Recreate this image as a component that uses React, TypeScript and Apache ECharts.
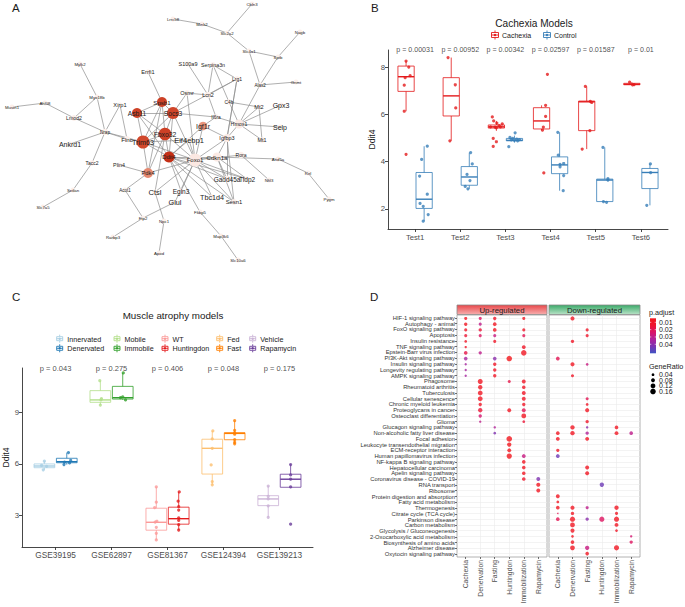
import React, { useEffect, useRef } from 'react';
import * as echarts from 'echarts';

const FONT = "'Liberation Sans', Arial, Helvetica, sans-serif";

// ---------------- Panel A : interaction network ----------------
// [gene, x, y, hub score (0..1), node diameter, label size]
const NET_NODES: [string, number, number, number, number, number][] = [
  ['Cbln3', 252, 4, 0, 5, 4.3], ['Lrrc58', 173, 19, 0, 5, 4.3], ['Mink2', 202, 24, 0, 5, 4.3],
  ['Slc2a2', 227, 33, 0, 5, 4.3], ['Nagb', 300, 32, 0, 5, 4.3], ['Slc4a1', 249, 51, 0, 5, 4.3],
  ['Sptb', 278, 57, 0, 5, 4.3], ['Alas2', 260, 85, 0, 5.5, 4.5], ['Gnmt', 296, 82, 0, 5, 4.3],
  ['Mylk2', 80, 64, 0, 5, 4.3], ['Myo18b', 97, 97, 0, 5, 4.3], ['Ahl08', 45, 103, 0, 5, 4.3],
  ['Mustn1', 12, 107, 0, 5, 4.3], ['Lmod2', 74, 118, 0, 6, 5.2], ['Nrap', 105, 132, 0, 6.5, 4.6],
  ['Ankrd1', 70, 144, 0, 5, 7], ['Xirp1', 120, 105, 0, 5, 5.7], ['Flnc', 127, 139, 0, 6, 6.2],
  ['Tacc2', 92, 163, 0, 5.5, 5], ['Sntlan', 73, 190, 0, 5, 4.3], ['Slc7a5', 43, 207, 0, 5, 4.3],
  ['Plin4', 119, 165, 0, 5, 5.3], ['Acot1', 125, 190, 0, 5, 4.5], ['Ftp2', 143, 218, 0, 5, 4.3],
  ['Rarbp3', 113, 237, 0, 5, 4.3], ['Npc1', 164, 221, 0, 5, 4.3], ['Apod', 159, 253, 0, 5, 4.3],
  ['Errfi1', 148, 72, 0, 5, 5.6], ['Spsb1', 162, 102, 0.85, 10, 6.1], ['Asb11', 137, 113, 0.85, 10, 6.7],
  ['Socs3', 173, 113, 0.82, 12, 6.6], ['Fbxo32', 165, 134, 0.86, 12.5, 6.8], ['Trim63', 143, 142, 0.8, 13, 7.2],
  ['Ddit4', 169, 157, 1, 11, 5.7], ['Pdk4', 148, 173, 0.45, 10, 5.8], ['Ctsl', 155, 192, 0, 5, 7.5],
  ['Egln3', 181, 191, 0, 5, 6.5], ['Glul', 175, 202, 0, 5, 7.3], ['Tbc1d4', 212, 197, 0, 5, 7.2],
  ['Fkbp5', 200, 212, 0, 5, 4.3], ['Map3k6', 221, 236, 0, 5, 4.3], ['Slc10a6', 238, 260, 0, 5, 4.3],
  ['Sesn1', 234, 202, 0, 6, 5.9], ['Gadd45a', 227, 179, 0, 7, 6.5], ['Tldp2', 247, 179, 0, 5, 6.5],
  ['Foxo1', 195, 160, 0.03, 13, 6], ['Cdkn1a', 217, 157, 0.02, 9, 6.1], ['Eif4ebp1', 189, 140, 0, 5, 7.5],
  ['Igf1r', 203, 126, 0.4, 8.5, 7], ['Igfbp3', 227, 138, 0.02, 8, 5.5], ['Rora', 241, 155, 0, 6.5, 5.1],
  ['Arid5a', 278, 159, 0, 5, 4.3], ['Rel', 308, 173, 0, 5, 4.3], ['Pygm', 329, 199, 0, 5, 4.3],
  ['Nfil3', 269, 180, 0, 5, 4.3], ['Hmox1', 239, 124, 0.02, 9, 5.3], ['Mt2', 259, 107, 0, 5, 5.6],
  ['Mt1', 262, 140, 0, 5.5, 5.4], ['Gpx3', 281, 105, 0, 5, 7], ['Selp', 280, 127, 0, 5, 7],
  ['Il6ra', 216, 117, 0, 5.5, 4.8], ['C4b', 229, 102, 0, 5.5, 4.8], ['Lcn2', 208, 95, 0, 6.5, 5.4],
  ['Lrg1', 237, 79, 0, 5.5, 5], ['Serpina3n', 213, 65, 0, 5.5, 5.3], ['S100a9', 188, 64, 0, 5, 5.5],
  ['Osmr', 187, 93, 0, 5.5, 5.5],
];
const NET_EDGES: [string, string][] = [
  ['Cbln3', 'Slc2a2'], ['Lrrc58', 'Mink2'], ['Mink2', 'Slc2a2'], ['Slc2a2', 'Slc4a1'], ['Slc4a1', 'Sptb'],
  ['Slc4a1', 'Alas2'], ['Nagb', 'Sptb'], ['Sptb', 'Alas2'], ['Alas2', 'Gnmt'], ['Alas2', 'Hmox1'],
  ['Mylk2', 'Myo18b'], ['Myo18b', 'Lmod2'], ['Myo18b', 'Nrap'], ['Mustn1', 'Ahl08'], ['Ahl08', 'Lmod2'],
  ['Lmod2', 'Nrap'], ['Nrap', 'Trim63'], ['Nrap', 'Flnc'], ['Nrap', 'Xirp1'], ['Nrap', 'Ankrd1'],
  ['Nrap', 'Tacc2'], ['Tacc2', 'Sntlan'], ['Sntlan', 'Slc7a5'], ['Xirp1', 'Flnc'], ['Flnc', 'Trim63'],
  ['Errfi1', 'Spsb1'], ['Spsb1', 'Asb11'], ['Spsb1', 'Socs3'], ['Spsb1', 'Fbxo32'], ['Spsb1', 'Trim63'],
  ['Spsb1', 'Pdk4'], ['Asb11', 'Socs3'], ['Asb11', 'Trim63'], ['Asb11', 'Fbxo32'], ['Asb11', 'Ddit4'],
  ['Socs3', 'Fbxo32'], ['Socs3', 'Osmr'], ['Socs3', 'Lrg1'], ['Socs3', 'Il6ra'], ['Socs3', 'Ddit4'],
  ['Socs3', 'Foxo1'], ['Socs3', 'Trim63'], ['Fbxo32', 'Trim63'], ['Fbxo32', 'Ddit4'], ['Fbxo32', 'Pdk4'],
  ['Fbxo32', 'Foxo1'], ['Fbxo32', 'Ctsl'], ['Trim63', 'Ddit4'], ['Trim63', 'Pdk4'], ['Trim63', 'Foxo1'],
  ['Trim63', 'Eif4ebp1'], ['Ddit4', 'Foxo1'], ['Ddit4', 'Cdkn1a'], ['Ddit4', 'Gadd45a'], ['Ddit4', 'Sesn1'],
  ['Ddit4', 'Egln3'], ['Ddit4', 'Fkbp5'], ['Ddit4', 'Igf1r'], ['Ddit4', 'Tldp2'], ['Ddit4', 'Eif4ebp1'],
  ['Ddit4', 'Tbc1d4'], ['Pdk4', 'Plin4'], ['Pdk4', 'Acot1'], ['Pdk4', 'Foxo1'], ['Acot1', 'Ftp2'],
  ['Ftp2', 'Rarbp3'], ['Ftp2', 'Glul'], ['Npc1', 'Apod'], ['Npc1', 'Ctsl'], ['Foxo1', 'Ctsl'],
  ['Foxo1', 'Egln3'], ['Foxo1', 'Tbc1d4'], ['Foxo1', 'Sesn1'], ['Foxo1', 'Gadd45a'], ['Foxo1', 'Cdkn1a'],
  ['Foxo1', 'Igf1r'], ['Foxo1', 'Igfbp3'], ['Foxo1', 'Eif4ebp1'], ['Foxo1', 'Rora'], ['Foxo1', 'Tldp2'],
  ['Foxo1', 'Osmr'], ['Foxo1', 'Glul'], ['Fkbp5', 'Map3k6'], ['Map3k6', 'Slc10a6'], ['Cdkn1a', 'Gadd45a'],
  ['Cdkn1a', 'Sesn1'], ['Cdkn1a', 'Igfbp3'], ['Cdkn1a', 'Arid5a'], ['Cdkn1a', 'Tldp2'], ['Rora', 'Nfil3'],
  ['Arid5a', 'Rel'], ['Rel', 'Pygm'], ['Igfbp3', 'Hmox1'], ['Igfbp3', 'Lrg1'], ['Igfbp3', 'Sesn1'],
  ['Igfbp3', 'Gadd45a'], ['Hmox1', 'Mt2'], ['Hmox1', 'Mt1'], ['Hmox1', 'Gpx3'], ['Hmox1', 'Selp'],
  ['Hmox1', 'C4b'], ['Hmox1', 'Il6ra'], ['Mt2', 'Mt1'], ['Mt2', 'C4b'], ['Lcn2', 'S100a9'],
  ['Lcn2', 'Serpina3n'], ['Lcn2', 'Lrg1'], ['Lcn2', 'Osmr'], ['Lcn2', 'Il6ra'], ['Serpina3n', 'Lrg1'],
  ['Serpina3n', 'C4b'], ['Lrg1', 'Igfbp3'], ['Igf1r', 'Igfbp3'], ['Il6ra', 'Igf1r'],
];

// ---------------- Panel B : Cachexia models ----------------
const B_TESTS = ['Test1', 'Test2', 'Test3', 'Test4', 'Test5', 'Test6'];
const B_PVALUES = ['p = 0.00031', 'p = 0.00952', 'p = 0.00342', 'p = 0.02597', 'p = 0.01587', 'p = 0.01'];
const B_Y_TICKS = [2, 4, 6, 8];
// [low whisker, Q1, median, Q3, high whisker]
const bCachexiaBox = [
  [6.13, 6.97, 7.59, 8.04, 8.25], [4.88, 5.93, 6.78, 7.55, 8.4], [5.3, 5.42, 5.47, 5.55, 5.72],
  [5.33, 5.38, 5.72, 6.28, 6.38], [4.53, 5.31, 6.53, 6.56, 7.18], [7.24, 7.25, 7.27, 7.31, 7.36],
];
const bControlBox = [
  [1.48, 2.02, 2.41, 3.54, 4.65], [2.85, 3.0, 3.35, 3.79, 4.38], [4.8, 4.88, 4.9, 4.98, 5.1],
  [2.77, 3.49, 3.86, 4.2, 5.24], [2.28, 2.31, 3.22, 3.26, 4.6], [2.15, 2.86, 3.54, 3.71, 3.9],
];
// [test, jitter, Ddit4]
const bCachexiaPts = [
  [1, 0, 8.25], [1, 0.06, 8.0], [1, 0.09, 7.64], [1, -0.02, 7.55], [1, -0.04, 7.23], [1, -0.04, 6.13], [1, 0, 4.31],
  [2, -0.07, 8.4], [2, 0.09, 7.25], [2, 0.1, 6.27], [2, -0.03, 4.88],
  [3, -0.09, 5.89], [3, -0.06, 5.72], [3, 0.01, 5.63], [3, 0.13, 5.6], [3, 0.06, 5.52], [3, -0.13, 5.47],
  [3, -0.03, 5.46], [3, 0.09, 5.47], [3, 0, 5.43], [3, -0.07, 4.98], [3, 0, 4.84], [3, -0.07, 4.64],
  [4, 0.13, 7.69], [4, 0.09, 6.38], [4, 0.09, 5.91], [4, 0.04, 5.46], [4, 0.02, 5.33], [4, 0.05, 3.52],
  [5, -0.03, 7.18], [5, 0.08, 6.55], [5, 0.11, 6.5], [5, 0.07, 5.31], [5, -0.1, 4.53],
  [6, -0.05, 7.36], [6, 0.05, 7.26], [6, 0.015, 7.25],
];
const bControlPts = [
  [1, 0.07, 4.65], [1, -0.055, 4.09], [1, -0.1, 3.39], [1, 0.07, 2.62], [1, -0.09, 2.23], [1, -0.02, 2.11], [1, 0.09, 1.76], [1, -0.02, 1.48],
  [2, 0.03, 4.38], [2, 0.066, 3.9], [2, -0.05, 3.46], [2, 0.015, 3.2], [2, -0.09, 2.95], [2, -0.03, 2.85],
  [3, 0.015, 5.22], [3, -0.1, 5.02], [3, -0.04, 4.98], [3, 0.05, 4.95], [3, 0.11, 4.93], [3, -0.07, 4.92], [3, 0, 4.9], [3, 0.07, 4.88], [3, -0.125, 4.63],
  [4, -0.04, 5.24], [4, -0.03, 4.27], [4, 0.09, 3.92], [4, 0.01, 3.88], [4, 0.01, 3.78], [4, 0.09, 3.41], [4, 0.08, 2.77],
  [5, -0.04, 4.6], [5, 0.07, 3.28], [5, 0.07, 3.22], [5, -0.03, 2.31], [5, 0.04, 2.28],
  [6, 0.01, 3.9], [6, 0.015, 3.53], [6, -0.07, 2.15],
];

// ---------------- Panel C : Muscle atrophy models ----------------
const C_DATASETS = ['GSE39195', 'GSE62897', 'GSE81367', 'GSE124394', 'GSE139213'];
const C_PVALUES = ['p = 0.043', 'p = 0.275', 'p = 0.406', 'p = 0.048', 'p = 0.175'];
const C_CONTROL_NAMES = ['Innervated', 'Mobile', 'WT', 'Fed', 'Vehicle'];
const C_TREAT_NAMES = ['Denervated', 'Immobile', 'Huntingdon', 'Fast', 'Rapamycin'];
const C_Y_TICKS = [3, 6, 9];
const cControlBox = [
  [5.65, 5.77, 5.87, 5.99, 6.15], [9.42, 9.58, 9.72, 10.26, 10.84], [1.56, 2.13, 2.59, 3.41, 4.65],
  [4.77, 5.4, 6.9, 7.43, 7.91], [2.88, 3.56, 3.95, 4.14, 4.71],
];
const cTreatBox = [
  [5.95, 6.06, 6.12, 6.32, 6.65], [9.72, 9.77, 9.85, 10.51, 11.29], [2.14, 2.48, 2.8, 3.47, 4.36],
  [7.16, 7.4, 7.77, 7.81, 8.51], [4.63, 4.63, 5.1, 5.39, 5.97],
];
const cControlPts = [
  [1, 0, 6.15], [1, -0.05, 5.9], [1, 0.04, 5.85], [1, -0.02, 5.65],
  [2, -0.01, 10.84], [2, 0.02, 9.8], [2, 0.01, 9.72], [2, 0, 9.42],
  [3, 0, 4.65], [3, 0, 3.76], [3, -0.03, 3.45], [3, 0.01, 2.65], [3, -0.02, 2.6], [3, 0, 2.3], [3, 0, 1.95], [3, 0, 1.56],
  [4, 0.01, 7.91], [4, 0, 7.45], [4, 0, 6.9], [4, -0.02, 5.93], [4, 0, 4.96], [4, 0, 4.77],
  [5, 0, 4.7], [5, 0, 4.1], [5, 0, 3.95], [5, 0, 3.55], [5, 0, 2.88],
];
const cTreatPts = [
  [1, 0.03, 6.65], [1, 0.07, 6.2], [1, -0.04, 6.1], [1, 0.05, 6.05], [1, -0.05, 5.95],
  [2, 0.01, 11.29], [2, 0, 9.9], [2, -0.04, 9.85], [2, 0.05, 9.72],
  [3, 0.01, 4.36], [3, -0.01, 3.82], [3, 0, 3.5], [3, 0, 3.3], [3, 0, 2.85], [3, 0, 2.7], [3, 0, 2.45], [3, 0, 2.14],
  [4, 0, 8.51], [4, 0, 7.95], [4, 0, 7.8], [4, 0, 7.72], [4, 0, 7.4], [4, 0, 7.25], [4, 0, 7.16],
  [5, 0, 5.95], [5, 0, 5.35], [5, 0, 5.1], [5, 0, 4.65], [5, 0, 2.48],
];

// ---------------- Panel D : KEGG enrichment ----------------
const D_PATHWAYS = [
  'HIF-1 signaling pathway', 'Autophagy - animal', 'FoxO signaling pathway', 'Apoptosis', 'Insulin resistance',
  'TNF signaling pathway', 'Epstein-Barr virus infection', 'PI3K-Akt signaling pathway', 'Insulin signaling pathway',
  'Longevity regulating pathway', 'AMPK signaling pathway', 'Phagosome', 'Rheumatoid arthritis', 'Tuberculosis',
  'Cellular senescence', 'Chronic myeloid leukemia', 'Proteoglycans in cancer', 'Osteoclast differentiation', 'Glioma',
  'Glucagon signaling pathway', 'Non-alcoholic fatty liver disease', 'Focal adhesion', 'Leukocyte transendothelial migration',
  'ECM-receptor interaction', 'Human papillomavirus infection', 'NF-kappa B signaling pathway', 'Hepatocellular carcinoma',
  'Apelin signaling pathway', 'Coronavirus disease - COVID-19', 'RNA transport', 'Ribosome', 'Protein digestion and absorption',
  'Fatty acid metabolism', 'Thermogenesis', 'Citrate cycle (TCA cycle)', 'Parkinson disease', 'Carbon metabolism',
  'Glycolysis / Gluconeogenesis', '2-Oxocarboxylic acid metabolism', 'Biosynthesis of amino acids', 'Alzheimer disease',
  'Oxytocin signaling pathway',
];
const D_GROUPS = ['Cachexia', 'Denervation', 'Fasting', 'Huntingdon', 'Immobilization', 'Rapamycin'];
const D_FACETS = ['Up-regulated', 'Down-regulated'];
// [group column, pathway row, p.adjust, GeneRatio]
const dUpDots = [
  [1, 1, 0.008, 0.05], [2, 1, 0.022, 0.05], [3, 1, 0.01, 0.06], [5, 1, 0.008, 0.05],
  [1, 2, 0.008, 0.06], [2, 2, 0.03, 0.05], [3, 2, 0.008, 0.07],
  [1, 3, 0.01, 0.05], [2, 3, 0.015, 0.06], [3, 3, 0.008, 0.07], [5, 3, 0.01, 0.05],
  [1, 4, 0.015, 0.05], [2, 4, 0.022, 0.05], [3, 4, 0.028, 0.05], [5, 4, 0.02, 0.05],
  [1, 5, 0.01, 0.04], [3, 5, 0.01, 0.05],
  [1, 6, 0.012, 0.03], [5, 6, 0.01, 0.08],
  [1, 7, 0.018, 0.07], [2, 7, 0.03, 0.06], [5, 7, 0.008, 0.16],
  [1, 8, 0.035, 0.07], [3, 8, 0.04, 0.07], [4, 8, 0.005, 0.16],
  [1, 9, 0.035, 0.03], [3, 9, 0.01, 0.06],
  [1, 10, 0.035, 0.03], [3, 10, 0.01, 0.06],
  [1, 11, 0.035, 0.03], [3, 11, 0.01, 0.06],
  [2, 12, 0.008, 0.13], [4, 12, 0.018, 0.05], [5, 12, 0.01, 0.08],
  [2, 13, 0.008, 0.1], [5, 13, 0.01, 0.07],
  [2, 14, 0.008, 0.12], [5, 14, 0.01, 0.08],
  [2, 15, 0.008, 0.12], [5, 15, 0.01, 0.08],
  [2, 16, 0.01, 0.06], [5, 16, 0.01, 0.06],
  [2, 17, 0.015, 0.1], [4, 17, 0.008, 0.08], [5, 17, 0.02, 0.08],
  [2, 18, 0.025, 0.06], [5, 18, 0.008, 0.12],
  [2, 19, 0.03, 0.03], [5, 19, 0.015, 0.04],
  [3, 20, 0.033, 0.03],
  [3, 21, 0.042, 0.04],
  [4, 22, 0.006, 0.17],
  [4, 23, 0.006, 0.1],
  [4, 24, 0.006, 0.08],
  [4, 25, 0.006, 0.15], [5, 25, 0.028, 0.08],
  [5, 26, 0.008, 0.07], [5, 27, 0.008, 0.07], [5, 28, 0.008, 0.07],
  [5, 29, 0.012, 0.07], [6, 29, 0.042, 0.08],
  [6, 30, 0.008, 0.09], [6, 31, 0.008, 0.08],
];
const dDownDots = [
  [2, 1, 0.008, 0.09], [3, 3, 0.01, 0.05], [3, 4, 0.012, 0.05], [2, 5, 0.01, 0.06], [1, 8, 0.02, 0.08],
  [2, 9, 0.008, 0.09], [3, 9, 0.028, 0.04], [2, 11, 0.01, 0.05], [3, 15, 0.02, 0.05], [3, 16, 0.01, 0.04],
  [3, 17, 0.008, 0.09], [3, 19, 0.01, 0.06],
  [2, 20, 0.008, 0.1], [3, 20, 0.04, 0.03], [5, 20, 0.008, 0.07],
  [1, 21, 0.008, 0.07], [2, 21, 0.008, 0.1], [3, 21, 0.033, 0.06], [5, 21, 0.008, 0.08], [6, 21, 0.03, 0.07],
  [1, 22, 0.008, 0.08], [3, 22, 0.008, 0.08], [1, 24, 0.01, 0.06], [1, 25, 0.045, 0.08],
  [3, 27, 0.008, 0.08], [3, 28, 0.008, 0.08], [4, 30, 0.045, 0.1], [1, 32, 0.008, 0.08], [1, 33, 0.008, 0.04],
  [1, 34, 0.008, 0.07], [2, 34, 0.008, 0.09], [3, 34, 0.03, 0.05], [5, 34, 0.008, 0.1],
  [1, 35, 0.02, 0.012], [2, 35, 0.008, 0.06], [5, 35, 0.008, 0.05],
  [1, 36, 0.02, 0.07], [2, 36, 0.008, 0.14], [3, 36, 0.04, 0.06], [4, 36, 0.022, 0.14], [5, 36, 0.008, 0.14],
  [2, 37, 0.008, 0.12], [5, 37, 0.008, 0.08],
  [2, 38, 0.008, 0.09], [5, 38, 0.01, 0.04],
  [2, 39, 0.008, 0.04], [6, 39, 0.025, 0.03],
  [2, 40, 0.008, 0.07], [6, 40, 0.022, 0.06],
  [2, 41, 0.008, 0.12], [3, 41, 0.028, 0.1], [5, 41, 0.008, 0.14],
  [3, 42, 0.008, 0.07],
];
const D_PADJ_TICKS = [0.01, 0.02, 0.03, 0.04];
const D_RATIO_TICKS = [0.04, 0.08, 0.12, 0.16];

// ---------------- styling constants ----------------
const PADJ_MIN = 0.0045;
const PADJ_MAX = 0.0523;
const PADJ_COLORS = ['#F2161B', '#EE1530', '#DA1268', '#B0209A', '#7C33B2', '#4055C4'];
const ratioSize = (r: number) => 13.75 * Math.sqrt(r);
const B_COLORS = ['#E41A1C', '#377EB8'];
const C_PAIRS = [['#A6CEE3', '#1F78B4'], ['#B2DF8A', '#33A02C'], ['#FB9A99', '#E31A1C'], ['#FDBF6F', '#FF7F00'], ['#CAB2D6', '#6A3D9A']];
const AXIS_COL = '#333333';
const TICK_TXT = '#4D4D4D';

function txt(text: string, x: number, y: number, size: number, opts: any = {}) {
  return {
    type: 'text', x, y, z: 50, silent: true,
    style: {
      text, fontSize: size, fontFamily: FONT, fill: opts.fill || '#1A1A1A',
      textAlign: opts.align || 'left', align: opts.align || 'left',
      textVerticalAlign: 'middle', verticalAlign: 'middle',
    },
  };
}

function boxKey(cx: number, cy: number, color: string, w: number, h: number) {
  const s = { stroke: color, lineWidth: 0.9 };
  return {
    type: 'group', z: 50, silent: true,
    children: [
      { type: 'line', shape: { x1: cx, y1: cy - h / 2 - 2, x2: cx, y2: cy - h / 2 }, style: s },
      { type: 'line', shape: { x1: cx, y1: cy + h / 2, x2: cx, y2: cy + h / 2 + 2 }, style: s },
      { type: 'rect', shape: { x: cx - w / 2, y: cy - h / 2, width: w, height: h }, style: { ...s, fill: '#fff' } },
      { type: 'line', shape: { x1: cx - w / 2, y1: cy, x2: cx + w / 2, y2: cy }, style: s },
      { type: 'circle', shape: { cx, cy, r: 1.2 }, style: { fill: color } },
    ],
  };
}

function boxRenderer(palette: string[], widthUnits: number) {
  return (_params: any, api: any) => {
    const x = api.value(0);
    const lo = api.coord([x, api.value(1)]);
    const q1 = api.coord([x, api.value(2)]);
    const md = api.coord([x, api.value(3)]);
    const q3 = api.coord([x, api.value(4)]);
    const hi = api.coord([x, api.value(5)]);
    const color = palette[api.value(6)];
    const hw = api.size([widthUnits, 0])[0] / 2;
    const cx = lo[0];
    const st = { stroke: color, lineWidth: 1, opacity: 0.8, fill: 'none' };
    return {
      type: 'group',
      children: [
        { type: 'line', shape: { x1: cx, y1: hi[1], x2: cx, y2: q3[1] }, style: st },
        { type: 'line', shape: { x1: cx, y1: q1[1], x2: cx, y2: lo[1] }, style: st },
        { type: 'rect', shape: { x: cx - hw, y: q3[1], width: hw * 2, height: Math.max(q1[1] - q3[1], 0.5) }, style: st },
        { type: 'line', shape: { x1: cx - hw, y1: md[1], x2: cx + hw, y2: md[1] }, style: { ...st, lineWidth: 1.4, opacity: 1 } },
      ],
    };
  };
}

function buildOption() {
  const heatColor = (h: number) => echarts.color.lerp(h, ['#FCEFEA', '#ECA38C', '#D9583B', '#C42F15']) as string;
  const graphNodes = NET_NODES.map(([name, x, y, heat, size, font]) => ({
    name, value: [x, y], symbolSize: size,
    itemStyle: { color: heatColor(heat) },
    label: { fontSize: font, color: '#1A1A1A', textBorderWidth: 0 },
  }));
  const graphLinks = NET_EDGES.map(([source, target]) => ({ source, target, lineStyle: { color: '#8C8C8C' } }));

  const classicX = (gridIndex: number, min: number, max: number, ticks: number[], names: string[], size: number) => ({
    type: 'value', gridIndex, min, max,
    axisLine: { show: true, lineStyle: { color: AXIS_COL, width: 0.9 } },
    axisTick: { show: true, customValues: ticks, length: 3, lineStyle: { color: AXIS_COL, width: 0.9 } },
    axisLabel: { customValues: ticks, formatter: (v: number) => names[Math.round(v) - 1] || '', fontSize: size, color: TICK_TXT, margin: 4, fontFamily: FONT, showMinLabel: true, showMaxLabel: true },
    splitLine: { show: false },
  });
  const classicY = (gridIndex: number, min: number, max: number, ticks: number[]) => ({
    type: 'value', gridIndex, min, max,
    name: 'Ddit4', nameLocation: 'middle', nameGap: 12,
    nameTextStyle: { fontSize: 8.6, color: '#1A1A1A', fontFamily: FONT },
    axisLine: { show: true, lineStyle: { color: AXIS_COL, width: 0.9 } },
    axisTick: { show: true, customValues: ticks, length: 3, lineStyle: { color: AXIS_COL, width: 0.9 } },
    axisLabel: { customValues: ticks, fontSize: 7.8, color: TICK_TXT, margin: 3, fontFamily: FONT, showMinLabel: true, showMaxLabel: true },
    splitLine: { show: false },
  });
  const groupTicks = D_GROUPS.map((_, i) => i + 1);
  const dX = (gridIndex: number) => ({
    type: 'value', gridIndex, min: 0.4, max: 6.6, splitNumber: 6,
    axisLine: { show: false },
    axisTick: { show: true, customValues: groupTicks, length: 2, lineStyle: { color: AXIS_COL, width: 0.7 } },
    axisLabel: { customValues: groupTicks, rotate: 90, formatter: (v: number) => D_GROUPS[Math.round(v) - 1] || '', fontSize: 6.8, color: TICK_TXT, margin: 3, fontFamily: FONT, showMinLabel: true, showMaxLabel: true },
    splitLine: { show: true, showMinLine: false, showMaxLine: false, lineStyle: { color: '#EBEBEB', width: 0.6 } },
  });
  // value axis carrying the dots (row positions) – only grid lines shown
  const dY = (gridIndex: number) => ({
    type: 'value', gridIndex, min: 0.4, max: 42.6, inverse: true, splitNumber: 42,
    axisLine: { show: false }, axisTick: { show: false }, axisLabel: { show: false },
    splitLine: { show: true, showMinLine: false, showMaxLine: false, lineStyle: { color: '#EBEBEB', width: 0.6 } },
  });
  // category axis carrying the pathway names
  const dYLabels = {
    type: 'category', gridIndex: 3, data: D_PATHWAYS, inverse: true, position: 'left',
    axisLine: { show: false },
    axisTick: { show: true, alignWithLabel: true, interval: 0, length: 2, lineStyle: { color: AXIS_COL, width: 0.7 } },
    axisLabel: { interval: 0, fontSize: 5.8, color: '#333', margin: 2, fontFamily: FONT },
    splitLine: { show: false },
  };

  const series: any[] = [];
  // A
  series.push({
    type: 'graph', coordinateSystem: 'cartesian2d', xAxisIndex: 0, yAxisIndex: 0,
    layout: 'none', data: graphNodes, links: graphLinks, symbol: 'circle',
    lineStyle: { color: '#8C8C8C', width: 0.7, opacity: 1 },
    label: { show: true, position: 'inside', color: '#1A1A1A', fontFamily: FONT, textBorderWidth: 0 },
    emphasis: { disabled: true },
  });
  // B boxes & points
  const bBoxData = [
    ...bCachexiaBox.map((b, i) => [i + 1 - 0.2, ...b, 0]),
    ...bControlBox.map((b, i) => [i + 1 + 0.2, ...b, 1]),
  ];
  series.push({ type: 'custom', xAxisIndex: 1, yAxisIndex: 1, renderItem: boxRenderer(B_COLORS, 0.36), data: bBoxData, encode: { x: 0, y: [1, 2, 3, 4, 5] }, z: 2 });
  series.push({ type: 'scatter', xAxisIndex: 1, yAxisIndex: 1, symbolSize: 3.2, itemStyle: { color: B_COLORS[0] }, data: bCachexiaPts.map(([t, j, v]) => [t - 0.2 + j, v]), z: 3 });
  series.push({ type: 'scatter', xAxisIndex: 1, yAxisIndex: 1, symbolSize: 3.2, itemStyle: { color: B_COLORS[1] }, data: bControlPts.map(([t, j, v]) => [t + 0.2 + j, v]), z: 3 });
  series.push({
    type: 'scatter', xAxisIndex: 1, yAxisIndex: 1, symbolSize: 1, itemStyle: { color: 'rgba(0,0,0,0)' },
    data: B_PVALUES.map((p, i) => ({ value: [i + 1, 8.72], name: p })),
    label: { show: true, position: 'inside', formatter: (p: any) => p.name, fontSize: 7.1, color: '#1A1A1A', fontFamily: FONT, textBorderWidth: 0 },
  });
  // C boxes & points
  const cPalette = C_PAIRS.flat();
  const cBoxData = [
    ...cControlBox.map((b, i) => [i + 1 - 0.2, ...b, i * 2]),
    ...cTreatBox.map((b, i) => [i + 1 + 0.2, ...b, i * 2 + 1]),
  ];
  series.push({ type: 'custom', xAxisIndex: 2, yAxisIndex: 2, renderItem: boxRenderer(cPalette, 0.37), data: cBoxData, encode: { x: 0, y: [1, 2, 3, 4, 5] }, z: 2 });
  series.push({
    type: 'scatter', xAxisIndex: 2, yAxisIndex: 2, symbolSize: 3.2, z: 3,
    data: [
      ...cControlPts.map(([d, j, v]) => ({ value: [d - 0.2 + j, v], itemStyle: { color: C_PAIRS[d - 1][0] } })),
      ...cTreatPts.map(([d, j, v]) => ({ value: [d + 0.2 + j, v], itemStyle: { color: C_PAIRS[d - 1][1] } })),
    ],
  });
  series.push({
    type: 'scatter', xAxisIndex: 2, yAxisIndex: 2, symbolSize: 1, itemStyle: { color: 'rgba(0,0,0,0)' },
    data: C_PVALUES.map((p, i) => ({ value: [i + 1, 11.58], name: p })),
    label: { show: true, position: 'inside', formatter: (p: any) => p.name, fontSize: 7.5, color: '#1A1A1A', fontFamily: FONT, textBorderWidth: 0 },
  });
  // D dots
  const dStart = series.length;
  series.push({ type: 'scatter', xAxisIndex: 3, yAxisIndex: 3, data: dUpDots, symbolSize: (v: number[]) => ratioSize(v[3]), z: 3 });
  series.push({ type: 'scatter', xAxisIndex: 4, yAxisIndex: 4, data: dDownDots, symbolSize: (v: number[]) => ratioSize(v[3]), z: 3 });

  // ---------- graphics ----------
  const graphic: any[] = [];
  graphic.push(txt('A', 12, 8, 11.5), txt('B', 371, 8, 11.5), txt('C', 12, 297, 11.5), txt('D', 370, 297, 11.5));
  // B title + legend
  graphic.push(txt('Cachexia Models', 534, 23, 10.1, { align: 'center' }));
  const bLegend = [{ label: 'Cachexia', x: 495 }, { label: 'Control', x: 547 }];
  bLegend.forEach((l, i) => {
    graphic.push(boxKey(l.x, 35, B_COLORS[i], 7, 5));
    graphic.push(txt(l.label, l.x + 7, 35.5, 7));
  });
  // C title + legend
  graphic.push(txt('Muscle atrophy models', 173, 315, 9.8, { align: 'center' }));
  const cKeyX = [59.7, 117, 165, 219.7, 252.7];
  C_PAIRS.forEach((pair, i) => {
    graphic.push(boxKey(cKeyX[i], 338.7, pair[0], 6, 4));
    graphic.push(txt(C_CONTROL_NAMES[i], cKeyX[i] + 7.5, 339, 7.2));
    graphic.push(boxKey(cKeyX[i], 348.3, pair[1], 6, 4));
    graphic.push(txt(C_TREAT_NAMES[i], cKeyX[i] + 7.5, 348.6, 7.2));
  });
  // D strips
  const strips = [
    { x: 457, w: 90, c0: '#E9474A', c1: '#F6AFAF' },
    { x: 549, w: 91, c0: '#3BAA69', c1: '#B9E2C7' },
  ];
  strips.forEach((s, i) => {
    graphic.push({
      type: 'rect', z: 40, silent: true,
      shape: { x: s.x, y: 305, width: s.w, height: 9.5 },
      style: {
        fill: new echarts.graphic.LinearGradient(0, 0, 0, 1, [{ offset: 0, color: s.c0 }, { offset: 1, color: s.c1 }]),
        stroke: '#8C8C8C', lineWidth: 0.8,
      },
    });
    graphic.push(txt(D_FACETS[i], s.x + s.w / 2, 310, 7.8, { align: 'center' }));
  });
  // D colour legend
  const barX = 650, barTop = 318.3, barH = 35, barW = 6;
  graphic.push(txt('p.adjust', 649, 312.5, 7.2));
  graphic.push({
    type: 'rect', z: 40, silent: true,
    shape: { x: barX, y: barTop, width: barW, height: barH },
    style: {
      fill: new echarts.graphic.LinearGradient(0, 0, 0, 1, PADJ_COLORS.map((c, i) => ({ offset: i / (PADJ_COLORS.length - 1), color: c }))),
    },
  });
  D_PADJ_TICKS.forEach((t) => {
    const y = barTop + ((t - PADJ_MIN) / (PADJ_MAX - PADJ_MIN)) * barH;
    graphic.push({ type: 'line', z: 41, silent: true, shape: { x1: barX, y1: y, x2: barX + 1.3, y2: y }, style: { stroke: '#fff', lineWidth: 0.6 } });
    graphic.push({ type: 'line', z: 41, silent: true, shape: { x1: barX + barW - 1.3, y1: y, x2: barX + barW, y2: y }, style: { stroke: '#fff', lineWidth: 0.6 } });
    graphic.push(txt(t.toFixed(2), 659, y, 7));
  });
  // D size legend
  graphic.push(txt('GeneRatio', 649, 366, 7.2));
  D_RATIO_TICKS.forEach((r, i) => {
    const y = 374.7 + i * 5.6;
    graphic.push({ type: 'circle', z: 41, silent: true, shape: { cx: 653, cy: y, r: ratioSize(r) / 2 }, style: { fill: '#000' } });
    graphic.push(txt(r.toFixed(2), 659, y, 7));
  });

  return {
    animation: false,
    backgroundColor: '#ffffff',
    textStyle: { fontFamily: FONT },
    grid: [
      { left: 0, top: 0, width: 340, height: 290, show: false },
      { left: 388, top: 50, width: 280, height: 179, show: false },
      { left: 17, top: 368, width: 296, height: 179, show: false },
      { left: 457, top: 315, width: 90, height: 242, show: true, borderColor: '#9E9E9E', borderWidth: 0.8, backgroundColor: '#fff' },
      { left: 549, top: 315, width: 91, height: 242, show: true, borderColor: '#9E9E9E', borderWidth: 0.8, backgroundColor: '#fff' },
    ],
    xAxis: [
      { type: 'value', gridIndex: 0, min: 0, max: 340, show: false },
      classicX(1, 0.4, 6.6, B_TESTS.map((_, i) => i + 1), B_TESTS, 7.7),
      classicX(2, 0.4, 5.6, C_DATASETS.map((_, i) => i + 1), C_DATASETS, 8.3),
      dX(3),
      dX(4),
    ],
    yAxis: [
      { type: 'value', gridIndex: 0, min: 0, max: 290, inverse: true, show: false },
      classicY(1, 1.15, 8.72, B_Y_TICKS),
      classicY(2, 1.15, 11.58, C_Y_TICKS),
      dY(3),
      dY(4),
      dYLabels,
    ],
    visualMap: [{
      type: 'continuous', show: false, seriesIndex: [dStart, dStart + 1], dimension: 2,
      min: PADJ_MIN, max: PADJ_MAX, inRange: { color: PADJ_COLORS },
    }],
    series,
    graphic,
  };
}

export default function App() {
  const ref = useRef<HTMLDivElement>(null);
  useEffect(() => {
    if (!ref.current) return;
    const chart = echarts.init(ref.current, undefined, { renderer: 'svg' });
    chart.setOption(buildOption() as any);
    return () => chart.dispose();
  }, []);
  return <div ref={ref} style={{ position: 'fixed', left: 0, top: 0, width: 685, height: 607, background: '#fff' }} />;
}
